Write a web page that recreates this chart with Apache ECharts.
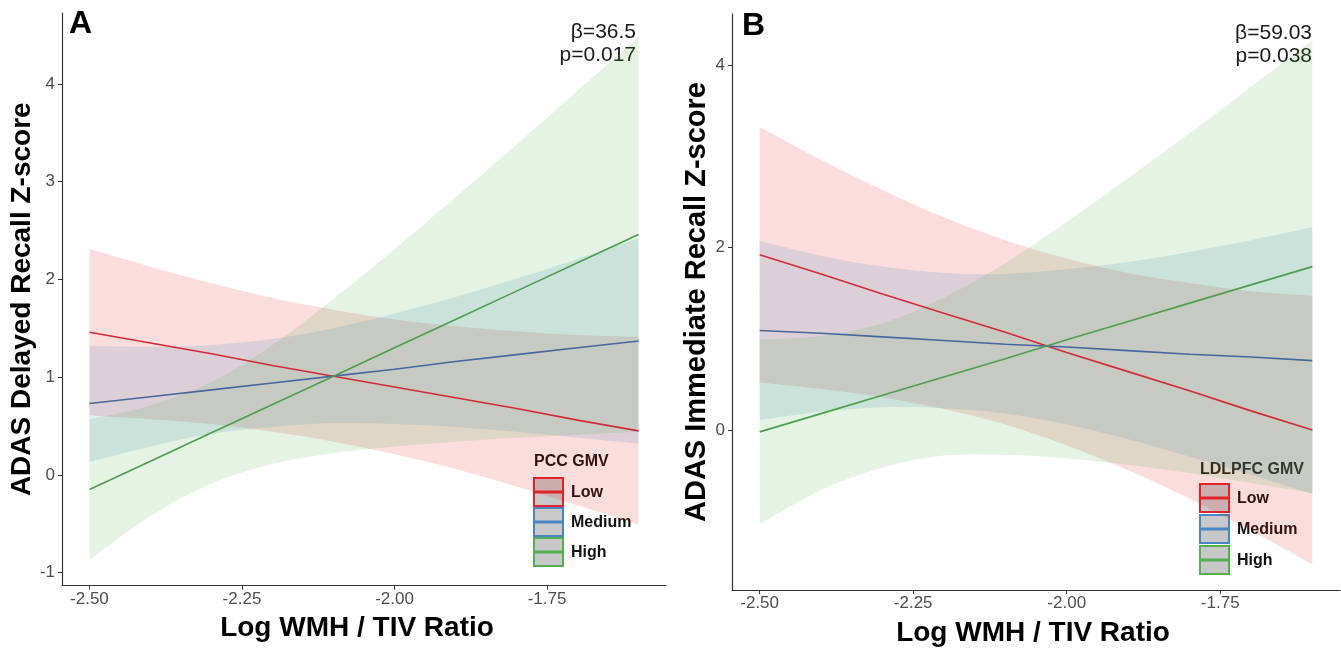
<!DOCTYPE html>
<html><head><meta charset="utf-8">
<script src="https://cdn.jsdelivr.net/npm/echarts@6/dist/echarts.min.js"></script>
<style>html,body{margin:0;padding:0;background:#fff}#c{width:1341px;height:652px}</style>
</head><body><div id="c"></div>
<script>
// ---------- data ----------
const xVals = [-2.5, -2.4, -2.3, -2.2, -2.1, -2.0, -1.9, -1.8, -1.7, -1.6];
const groups = ['Low', 'Medium', 'High'];
const xTicks = [-2.5, -2.25, -2.0, -1.75];
const yTicksA = [-1, 0, 1, 2, 3, 4];
const yTicksB = [0, 2, 4];

// Panel A : ADAS Delayed Recall
const fitA_low  = [1.46, 1.35, 1.24, 1.12, 1.01, 0.90, 0.79, 0.68, 0.56, 0.45];
const loA_low   = [0.61, 0.57, 0.52, 0.44, 0.34, 0.21, 0.06, -0.12, -0.31, -0.51];
const hiA_low   = [2.31, 2.13, 1.96, 1.81, 1.69, 1.59, 1.52, 1.47, 1.43, 1.41];
const fitA_med  = [0.73, 0.80, 0.87, 0.94, 1.01, 1.08, 1.16, 1.23, 1.30, 1.37];
const loA_med   = [0.13, 0.29, 0.42, 0.49, 0.53, 0.52, 0.49, 0.44, 0.38, 0.32];
const hiA_med   = [1.32, 1.31, 1.33, 1.39, 1.50, 1.65, 1.82, 2.01, 2.21, 2.42];
const fitA_high = [-0.15, 0.14, 0.43, 0.72, 1.01, 1.30, 1.59, 1.88, 2.17, 2.46];
const loA_high  = [-0.87, -0.42, -0.09, 0.11, 0.22, 0.29, 0.34, 0.38, 0.41, 0.44];
const hiA_high  = [0.57, 0.71, 0.95, 1.33, 1.80, 2.31, 2.84, 3.38, 3.93, 4.48];

// Panel B : ADAS Immediate Recall
const fitB_low  = [1.92, 1.71, 1.49, 1.28, 1.07, 0.85, 0.64, 0.43, 0.21, 0.00];
const loB_low   = [0.52, 0.45, 0.36, 0.23, 0.06, -0.17, -0.44, -0.75, -1.10, -1.47];
const hiB_low   = [3.32, 2.96, 2.63, 2.33, 2.08, 1.88, 1.72, 1.61, 1.52, 1.47];
const fitB_med  = [1.09, 1.06, 1.02, 0.98, 0.94, 0.91, 0.87, 0.83, 0.80, 0.76];
const loB_med   = [0.11, 0.20, 0.25, 0.24, 0.18, 0.06, -0.10, -0.29, -0.49, -0.70];
const hiB_med   = [2.07, 1.91, 1.79, 1.72, 1.71, 1.76, 1.84, 1.95, 2.08, 2.22];
const fitB_high = [-0.02, 0.18, 0.38, 0.58, 0.78, 0.99, 1.19, 1.39, 1.59, 1.79];
const loB_high  = [-1.03, -0.66, -0.41, -0.28, -0.27, -0.31, -0.38, -0.47, -0.58, -0.69];
const hiB_high  = [0.99, 1.03, 1.17, 1.45, 1.83, 2.28, 2.76, 3.25, 3.76, 4.27];

const statsA = ['β=36.5', 'p=0.017'];
const statsB = ['β=59.03', 'p=0.038'];

// ---------- styling ----------
const bandFill = ['rgba(228,26,28,0.15)', 'rgba(55,126,184,0.15)', 'rgba(77,175,74,0.15)'];
const lineCol = ['#d22b36', '#46679e', '#4c9f4c'];
const keyCol = ['#e0262a', '#4a86c5', '#55b052'];
const FONT = '"Liberation Sans", Arial, sans-serif';

const panels = [
  {fit: [fitA_low, fitA_med, fitA_high], lo: [loA_low, loA_med, loA_high], hi: [hiA_low, hiA_med, hiA_high]},
  {fit: [fitB_low, fitB_med, fitB_high], lo: [loB_low, loB_med, loB_high], hi: [hiB_low, hiB_med, hiB_high]}
];

// smooth path (Catmull-Rom -> cubic Bezier) through pixel points
function curveSegs(pts) {
  let d = '';
  for (let i = 0; i < pts.length - 1; i++) {
    const p0 = pts[i - 1] || pts[i], p1 = pts[i], p2 = pts[i + 1], p3 = pts[i + 2] || pts[i + 1];
    const c1 = [p1[0] + (p2[0] - p0[0]) / 6, p1[1] + (p2[1] - p0[1]) / 6];
    const c2 = [p2[0] - (p3[0] - p1[0]) / 6, p2[1] - (p3[1] - p1[1]) / 6];
    d += ' C' + c1[0] + ',' + c1[1] + ' ' + c2[0] + ',' + c2[1] + ' ' + p2[0] + ',' + p2[1];
  }
  return d;
}
function bandRender(fill) {
  return function (params, api) {
    if (params.dataIndexInside !== 0) return null;
    const n = params.dataInsideLength;
    const up = [], dn = [];
    for (let j = 0; j < n; j++) {
      up.push(api.coord([api.value(0, j), api.value(2, j)]));
      dn.push(api.coord([api.value(0, j), api.value(1, j)]));
    }
    dn.reverse();
    const d = 'M' + up[0][0] + ',' + up[0][1] + curveSegs(up) +
      ' L' + dn[0][0] + ',' + dn[0][1] + curveSegs(dn) + ' Z';
    return {type: 'path', shape: {pathData: d}, style: {fill: fill, stroke: null}};
  };
}

const series = [];
panels.forEach((p, gi) => {
  for (let k = 0; k < 3; k++) {
    series.push({
      type: 'custom', xAxisIndex: gi, yAxisIndex: gi, silent: true, z: 1,
      data: xVals.map((x, i) => [x, p.lo[k][i], p.hi[k][i]]),
      encode: {x: 0, y: [1, 2]},
      renderItem: bandRender(bandFill[k])
    });
  }
  for (let k = 0; k < 3; k++) {
    series.push({
      type: 'line', name: groups[k], xAxisIndex: gi, yAxisIndex: gi,
      data: xVals.map((x, i) => [x, p.fit[k][i]]),
      showSymbol: false, lineStyle: {color: lineCol[k], width: 1.6}, z: 3
    });
  }
});

function xAxisCfg(gi) {
  return {
    type: 'value', gridIndex: gi, min: -2.545, max: -1.555,
    splitLine: {show: false},
    axisLine: {show: true, onZero: false, lineStyle: {color: '#333', width: 1.2}},
    axisTick: {show: true, length: 4, customValues: xTicks, lineStyle: {color: '#333', width: 1}},
    axisLabel: {customValues: xTicks, formatter: v => v.toFixed(2), color: '#4d4d4d', fontSize: 17, fontFamily: FONT, margin: 5},
    name: 'Log WMH / TIV Ratio', nameLocation: 'middle', nameGap: 29,
    nameTextStyle: {fontSize: 28, fontWeight: 'bold', color: '#000', fontFamily: FONT, padding: gi === 0 ? [0, 14, 0, 0] : [0, 6, 0, 0]}
  };
}
function yAxisCfg(gi, min, max, ticks, name, fs, gap) {
  return {
    type: 'value', gridIndex: gi, min: min, max: max,
    splitLine: {show: false},
    axisLine: {show: true, onZero: false, lineStyle: {color: '#333', width: 1.2}},
    axisTick: {show: true, length: 4, customValues: ticks, lineStyle: {color: '#333', width: 1}},
    axisLabel: {customValues: ticks, color: '#4d4d4d', fontSize: 17, fontFamily: FONT, margin: 7},
    name: name, nameLocation: 'middle', nameGap: gap,
    nameTextStyle: {fontSize: fs, fontWeight: 'bold', color: '#000', fontFamily: FONT}
  };
}

function legendEls(x0, titleY, firstY, step, title) {
  const els = [{type: 'text', x: x0, y: titleY, style: {text: title, fontSize: 16, fontWeight: 'bold', fontFamily: FONT, fill: '#111', verticalAlign: 'middle'}}];
  groups.forEach((g, i) => {
    const y = firstY + i * step;
    els.push({type: 'rect', shape: {x: x0, y: y, width: 29, height: 28}, style: {fill: '#c8c8c8', stroke: keyCol[i], lineWidth: 2}});
    els.push({type: 'line', shape: {x1: x0 + 1, y1: y + 14, x2: x0 + 28, y2: y + 14}, style: {stroke: keyCol[i], lineWidth: 3}});
    els.push({type: 'text', x: x0 + 37, y: y + 15, style: {text: g, fontSize: 16, fontWeight: 'bold', fontFamily: FONT, fill: '#111', verticalAlign: 'middle'}});
  });
  return els;
}
function statEls(xr, y1, lines) {
  return lines.map((t, i) => ({type: 'text', x: xr, y: y1 + i * 23,
    style: {text: t, fontSize: 21, fontFamily: FONT, fill: '#1a1a1a', align: 'right', verticalAlign: 'middle'}}));
}

const graphic = [
  {type: 'text', x: 69, y: 24, style: {text: 'A', fontSize: 32, fontWeight: 'bold', fontFamily: FONT, fill: '#000', verticalAlign: 'middle'}},
  {type: 'text', x: 742, y: 26, style: {text: 'B', fontSize: 32, fontWeight: 'bold', fontFamily: FONT, fill: '#000', verticalAlign: 'middle'}},
  ...statEls(636, 32, statsA),
  ...statEls(1312, 33, statsB),
  ...legendEls(534, 462, 478, 30, 'PCC GMV'),
  ...legendEls(1200, 470, 484, 31, 'LDLPFC GMV')
];

const chart = echarts.init(document.getElementById('c'), null, {renderer: 'canvas'});
chart.setOption({
  animation: false,
  backgroundColor: '#ffffff',
  grid: [
    {left: 62, top: 13, width: 604, height: 572.5},
    {left: 732, top: 14, width: 608, height: 578}
  ],
  xAxis: [xAxisCfg(0), xAxisCfg(1)],
  yAxis: [
    yAxisCfg(0, -1.132, 4.726, yTicksA, 'ADAS Delayed Recall Z-score', 28, 24),
    yAxisCfg(1, -1.752, 4.557, yTicksB, 'ADAS Immediate Recall Z-score', 29, 21)
  ],
  series: series,
  graphic: graphic
});
</script>
</body></html>
